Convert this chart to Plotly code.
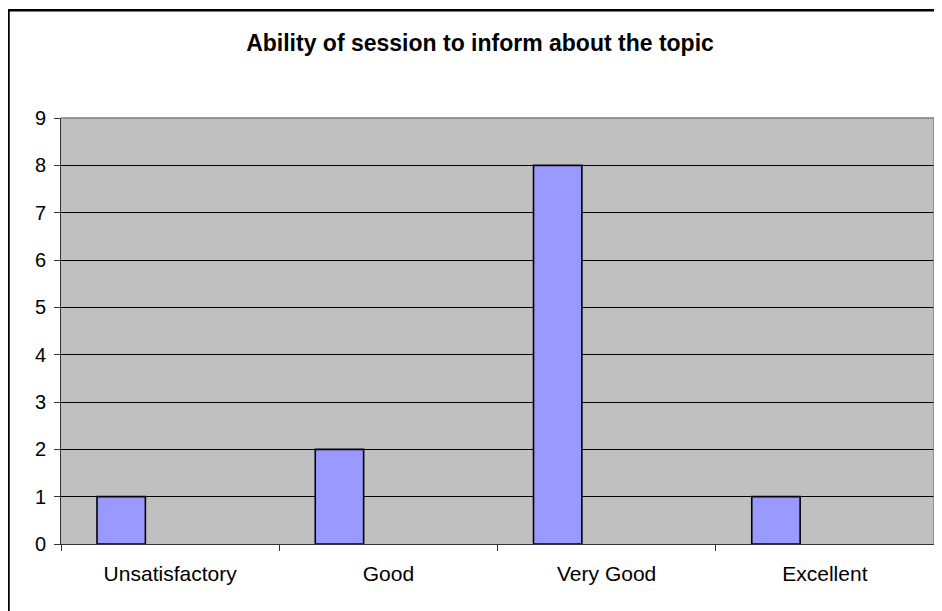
import plotly.graph_objects as go

categories = ["Unsatisfactory", "Good", "Very Good", "Excellent"]
counts = [1, 2, 8, 1]
y_ticks = list(range(0, 10))

# The page body has an 8px margin, so the figure is sized to fit the window.
W, H = 934, 603
L, R, T, B = 53, 8, 110, 67
pw, ph = W - L - R, H - T - B

def px_x(px):
    return (px - L) / pw

def px_y(py):
    return (H - B - py) / ph

fig = go.Figure()
fig.add_trace(go.Bar(
    x=categories, y=counts,
    width=0.2216, offset=-0.335,
    marker=dict(color="#9999FF", line=dict(color="#000000", width=1.6)),
    hoverinfo="x+y",
))

font_family = "Arial, Liberation Sans, sans-serif"

fig.update_layout(
    width=W, height=H,
    margin=dict(l=L, r=R, t=T, b=B, autoexpand=False),
    paper_bgcolor="#FFFFFF",
    plot_bgcolor="#C0C0C0",
    showlegend=False,
    font=dict(family=font_family, color="#000000", size=20),
    title=dict(
        text="<b>Ability of session to inform about the topic</b>",
        font=dict(family=font_family, size=23, color="#000000"),
        x=472 / W, xanchor="center", xref="container",
        y=1 - 35 / H, yanchor="middle", yref="container",
    ),
    xaxis=dict(
        type="category",
        range=[-0.5, 3.5],
        tickson="boundaries",
        ticks="outside", ticklen=6, tickcolor="#333333", tickwidth=1,
        showline=True, linecolor="#333333", linewidth=1,
        showgrid=False, zeroline=False,
        tickfont=dict(size=21, family=font_family),
        ticklabelstandoff=11,
    ),
    yaxis=dict(
        range=[0, 9],
        tickvals=y_ticks,
        ticks="outside", ticklen=6, tickcolor="#333333", tickwidth=1,
        showline=True, linecolor="#333333", linewidth=1,
        showgrid=True, gridcolor="#000000", gridwidth=1,
        zeroline=False,
        tickfont=dict(size=20, family=font_family),
        ticklabelstandoff=4,
    ),
    shapes=[
        dict(type="path", xref="paper", yref="paper",
             path="M 0,1 L 1,1 L 1,0", line=dict(color="#808080", width=1.5),
             layer="above"),
        dict(type="rect", xref="paper", yref="paper",
             x0=px_x(0.5), x1=px_x(960), y0=px_y(630), y1=px_y(2.3),
             line=dict(color="#000000", width=2.5), fillcolor="rgba(0,0,0,0)",
             layer="above"),
    ],
)

fig.write_html("out.html")
